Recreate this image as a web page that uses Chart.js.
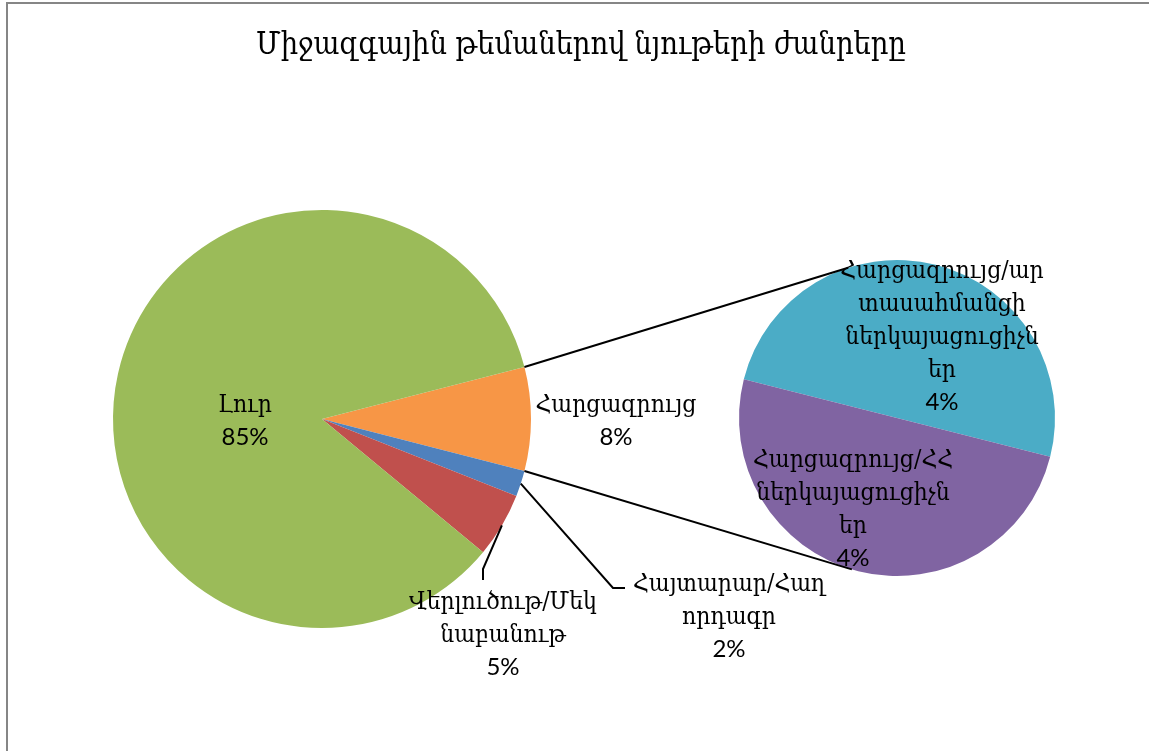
<!DOCTYPE html>
<html>
<head>
<meta charset="utf-8">
<script src="https://cdn.jsdelivr.net/npm/chart.js@4.4.0/dist/chart.umd.min.js"></script>
<style>
    html, body { margin: 0; padding: 0; background: #fff; }
    #wrap { position: relative; width: 1149px; height: 751px; overflow: hidden; }
    #wrap canvas { position: absolute; left: 0; top: 0; }
</style>
</head>
<body>
<div id="wrap">
    <canvas id="mainPie" width="1149" height="751"></canvas>
    <canvas id="subPie" width="1149" height="751"></canvas>
</div>
<script>
var chartTitle = 'Միջազգային թեմաներով նյութերի ժանրերը';

// first pie: the "Հարցազրույց" slice is split out into the second pie
var mainLabels = ['Հարցազրույց', 'Հայտարար/Հաղորդագր', 'Վերլուծութ/Մեկնաբանութ', 'Լուր'];
var mainValues = [8, 2, 5, 85];
var mainColors = ['#F79646', '#4F81BD', '#C0504D', '#9BBB59'];

var subLabels = ['Հարցազրույց/արտասահմանցի ներկայացուցիչներ', 'Հարցազրույց/ՀՀ ներկայացուցիչներ'];
var subValues = [4, 4];
var subColors = ['#4BACC6', '#8064A2'];

// label text wrapped the way it is in the picture
var mainLabelLines = [['Հարցազրույց'], ['Հայտարար/Հաղ', 'որդագր'], ['Վերլուծութ/Մեկ', 'նաբանութ'], ['Լուր']];
var subLabelLines = [['Հարցազրույց/ար', 'տասահմանցի', 'ներկայացուցիչն', 'եր'], ['Հարցազրույց/ՀՀ', 'ներկայացուցիչն', 'եր']];

var armFont = "'DejaVu Serif', serif";
var numFont = "Lato, 'Open Sans', sans-serif";
var lineStep = 33;

// where each label block starts (first baseline, centred on x)
var mainLabelPos = [{x: 616, y: 412}, {x: 729, y: 591}, {x: 503, y: 609}, {x: 245, y: 412}];
var subLabelPos = [{x: 942, y: 278}, {x: 853, y: 467}];
// leader line bends for the small outside labels
var leaderBends = {1: [[613, 588], [625, 588]], 2: [[483, 569], [483, 580]]};

var total = mainValues.reduce(function (a, b) { return a + b; }, 0);
var mainChart, subChart;

function pct(v) {
    return Math.round(v / total * 100) + '%';
}

// DejaVu Serif is wider than the original font, so squeeze it a bit
function armText(ctx, text, x, y, size, sx) {
    ctx.save();
    ctx.translate(x, y);
    ctx.scale(sx, 1);
    ctx.font = size + 'px ' + armFont;
    ctx.fillText(text, 0, 0);
    ctx.restore();
}

function drawLabel(ctx, lines, value, pos) {
    ctx.fillStyle = '#000';
    ctx.textAlign = 'center';
    ctx.textBaseline = 'alphabetic';
    var y = pos.y;
    lines.forEach(function (line) {
        armText(ctx, line, pos.x, y, 25, 0.88);
        y += lineStep;
    });
    ctx.font = '24px ' + numFont;
    ctx.fillText(pct(value), pos.x, y);
}

var overlay = {
    id: 'overlay',
    afterDraw: function (chart) {
        var ctx = chart.ctx;
        ctx.save();

        // outer frame
        ctx.strokeStyle = '#868686';
        ctx.lineWidth = 2;
        ctx.strokeRect(7, 3, 1200, 800);

        // title
        ctx.fillStyle = '#000';
        ctx.textAlign = 'center';
        ctx.textBaseline = 'alphabetic';
        armText(ctx, chartTitle, 581, 54, 31, 0.885);

        var mArcs = mainChart.getDatasetMeta(0).data;
        var sArc = chart.getDatasetMeta(0).data[0];
        var split = mArcs[0];

        // lines joining the split slice to the second pie
        ctx.strokeStyle = '#000';
        ctx.lineWidth = 2;
        var joins = [[split.startAngle, -108], [split.endAngle, 106.6]];
        joins.forEach(function (j) {
            var a2 = j[1] * Math.PI / 180;
            ctx.beginPath();
            ctx.moveTo(split.x + split.outerRadius * Math.cos(j[0]), split.y + split.outerRadius * Math.sin(j[0]));
            ctx.lineTo(sArc.x + sArc.outerRadius * Math.cos(a2), sArc.y + sArc.outerRadius * Math.sin(a2));
            ctx.stroke();
        });

        // leader lines
        Object.keys(leaderBends).forEach(function (k) {
            var arc = mArcs[k];
            var mid = (arc.startAngle + arc.endAngle) / 2;
            ctx.beginPath();
            ctx.moveTo(arc.x + arc.outerRadius * Math.cos(mid), arc.y + arc.outerRadius * Math.sin(mid));
            leaderBends[k].forEach(function (p) { ctx.lineTo(p[0], p[1]); });
            ctx.stroke();
        });

        mainLabelLines.forEach(function (lines, i) {
            drawLabel(ctx, lines, mainValues[i], mainLabelPos[i]);
        });
        subLabelLines.forEach(function (lines, i) {
            drawLabel(ctx, lines, subValues[i], subLabelPos[i]);
        });

        ctx.restore();
    }
};

var plainPlugins = {
    legend: { display: false },
    tooltip: { enabled: false },
    title: { display: false }
};

mainChart = new Chart(document.getElementById('mainPie').getContext('2d'), {
    type: 'pie',
    data: {
        labels: mainLabels,
        datasets: [{
            data: mainValues,
            backgroundColor: mainColors,
            borderWidth: 0
        }]
    },
    options: {
        responsive: false,
        animation: false,
        // centre the split slice on 3 o'clock
        rotation: 90 - mainValues[0] / total * 180,
        layout: { padding: { left: 113, right: 618, top: 210, bottom: 123 } },
        plugins: plainPlugins
    }
});

subChart = new Chart(document.getElementById('subPie').getContext('2d'), {
    type: 'pie',
    data: {
        labels: subLabels,
        datasets: [{
            data: subValues,
            backgroundColor: subColors,
            borderWidth: 0
        }]
    },
    options: {
        responsive: false,
        animation: false,
        rotation: 284.2,
        layout: { padding: { left: 739, right: 94, top: 260, bottom: 175 } },
        plugins: plainPlugins
    },
    plugins: [overlay]
});
</script>
</body>
</html>
